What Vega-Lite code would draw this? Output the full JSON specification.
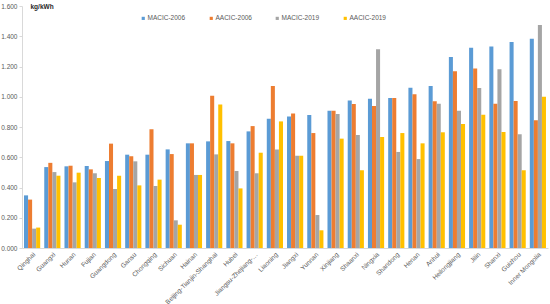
{
  "$schema": "https://vega.github.io/schema/vega-lite/v6.json",
  "width": 526,
  "height": 242,
  "autosize": {"type": "none"},
  "padding": {"left": 22, "top": 6, "right": 2, "bottom": 56},
  "background": "white",
  "config": {
    "font": "Liberation Sans",
    "view": {"stroke": null},
    "axis": {"labelColor": "#595959", "labelFont": "Liberation Sans", "grid": false}
  },
  "datasets": {
    "raw": [
      {"region": "Qinghai", "a": 0.348, "b": 0.320, "c": 0.128, "d": 0.135},
      {"region": "Guangxi", "a": 0.535, "b": 0.563, "c": 0.502, "d": 0.478},
      {"region": "Hunan", "a": 0.540, "b": 0.544, "c": 0.434, "d": 0.498},
      {"region": "Fujian", "a": 0.542, "b": 0.520, "c": 0.494, "d": 0.463},
      {"region": "Guangdong", "a": 0.575, "b": 0.690, "c": 0.390, "d": 0.478},
      {"region": "Gansu", "a": 0.617, "b": 0.606, "c": 0.573, "d": 0.414},
      {"region": "Chongqing", "a": 0.617, "b": 0.785, "c": 0.410, "d": 0.452},
      {"region": "Sichuan", "a": 0.652, "b": 0.621, "c": 0.183, "d": 0.154},
      {"region": "Hainan", "a": 0.692, "b": 0.692, "c": 0.483, "d": 0.483},
      {"region": "Beijing-Tianjin-Shanghai", "a": 0.705, "b": 1.007, "c": 0.619, "d": 0.948},
      {"region": "Hubei", "a": 0.707, "b": 0.692, "c": 0.509, "d": 0.394},
      {"region": "Jiangsu-Zhejiang-…", "a": 0.771, "b": 0.806, "c": 0.494, "d": 0.630},
      {"region": "Liaoning", "a": 0.855, "b": 1.071, "c": 0.652, "d": 0.837},
      {"region": "Jiangxi", "a": 0.870, "b": 0.890, "c": 0.610, "d": 0.610},
      {"region": "Yunnan", "a": 0.879, "b": 0.760, "c": 0.218, "d": 0.117},
      {"region": "Xinjiang", "a": 0.908, "b": 0.908, "c": 0.886, "d": 0.723},
      {"region": "Shaanxi", "a": 0.976, "b": 0.952, "c": 0.747, "d": 0.514},
      {"region": "Ningxia", "a": 0.987, "b": 0.939, "c": 1.314, "d": 0.734},
      {"region": "Shandong", "a": 0.992, "b": 0.992, "c": 0.635, "d": 0.760},
      {"region": "Henan", "a": 1.060, "b": 1.016, "c": 0.588, "d": 0.692},
      {"region": "Anhui", "a": 1.071, "b": 0.970, "c": 0.954, "d": 0.765},
      {"region": "Heilongjiang", "a": 1.263, "b": 1.168, "c": 0.908, "d": 0.820},
      {"region": "Jilin", "a": 1.324, "b": 1.186, "c": 1.058, "d": 0.881},
      {"region": "Shanxi", "a": 1.333, "b": 0.954, "c": 1.181, "d": 0.767},
      {"region": "Guizhou", "a": 1.362, "b": 0.972, "c": 0.752, "d": 0.514},
      {"region": "Inner Mongolia", "a": 1.384, "b": 0.844, "c": 1.474, "d": 1.000}
    ]
  },
  "data": {"name": "raw"},
  "transform": [
    {"fold": ["a", "b", "c", "d"], "as": ["key", "value"]},
    {"lookup": "key", "from": {"data": {"values": [
      {"key": "a", "series": "MACIC-2006"},
      {"key": "b", "series": "AACIC-2006"},
      {"key": "c", "series": "MACIC-2019"},
      {"key": "d", "series": "AACIC-2019"}
    ]}, "key": "key", "fields": ["series"]}}
  ],
  "mark": {"type": "bar"},
  "encoding": {
    "x": {
      "field": "region", "type": "nominal", "sort": null,
      "scale": {"paddingInner": 0.2, "paddingOuter": 0.1},
      "axis": {
        "title": null, "labelAngle": -45, "labelFontSize": 6.5, "labelAlign": "right", "labelBaseline": "top",
        "ticks": false, "domainColor": "#d9d9d9", "labelPadding": 3, "labelLimit": 200
      }
    },
    "xOffset": {"field": "series", "type": "nominal", "sort": ["MACIC-2006", "AACIC-2006", "MACIC-2019", "AACIC-2019"]},
    "y": {
      "field": "value", "type": "quantitative",
      "scale": {"domain": [0, 1.6], "nice": false},
      "axis": {
        "values": [0, 0.2, 0.4, 0.6, 0.8, 1.0, 1.2, 1.4, 1.6], "format": ".3f",
        "labelFontSize": 6.5, "domainColor": "#d9d9d9", "tickColor": "#d9d9d9", "tickSize": 3,
        "title": "kg/kWh", "titleAngle": 0, "titleAlign": "left", "titleBaseline": "middle",
        "titleX": 8, "titleY": 0, "titleFontSize": 6.5, "titleFontWeight": "bold", "titleColor": "#262626"
      }
    },
    "color": {
      "field": "series", "type": "nominal",
      "scale": {"domain": ["MACIC-2006", "AACIC-2006", "MACIC-2019", "AACIC-2019"], "range": ["#5B9BD5", "#ED7D31", "#A5A5A5", "#FFC000"]},
      "legend": {
        "title": null, "orient": "none", "direction": "horizontal", "legendX": 118, "legendY": 9,
        "symbolType": "square", "symbolSize": 10, "labelFontSize": 6.5, "labelColor": "#595959",
        "columns": 4, "columnPadding": 22, "symbolOffset": 0, "labelOffset": 1
      }
    }
  }
}
